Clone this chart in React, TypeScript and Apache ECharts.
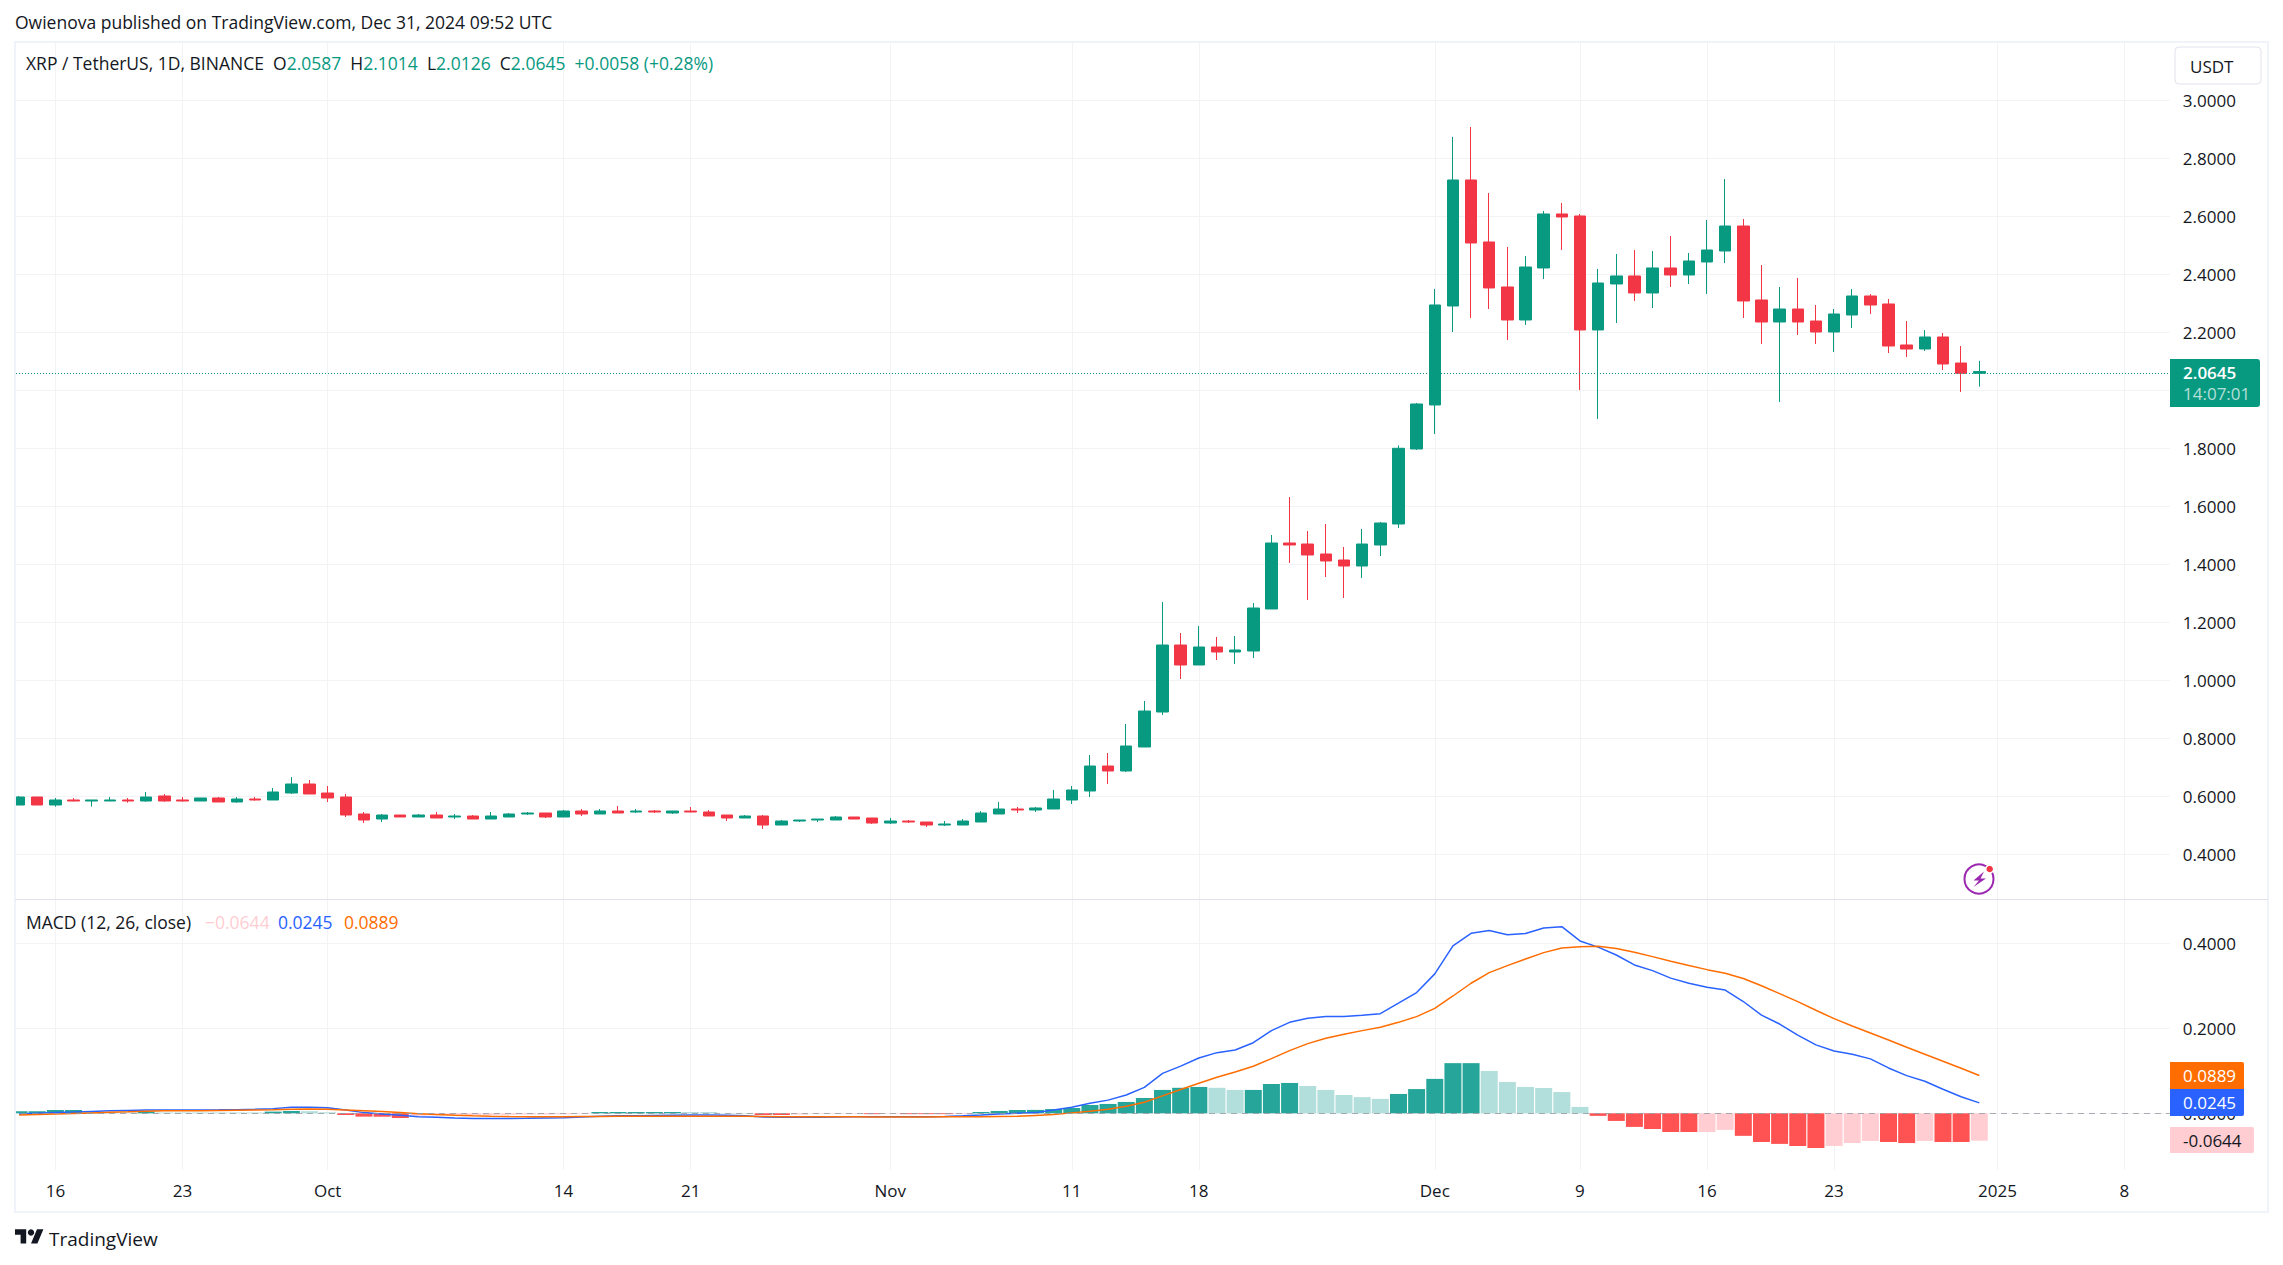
import React, { useEffect, useRef } from "react";
import * as echarts from "echarts";

const UP = "#089981";
const DOWN = "#F23645";
const TEXT = "#131722";
const GRID = "#F2F3F5";
const FONT = "'Open Sans', 'Noto Sans', sans-serif";

const startDay = Date.UTC(2024, 8, 14);
const bandCount = 119;
const categories: string[] = [];
for (let i = 0; i < bandCount; i++) {
  categories.push(new Date(startDay + i * 86400000).toISOString().slice(0, 10));
}

const timeTicks: Record<string, string> = {
  "2024-09-16": "16",
  "2024-09-23": "23",
  "2024-10-01": "Oct",
  "2024-10-14": "14",
  "2024-10-21": "21",
  "2024-11-01": "Nov",
  "2024-11-11": "11",
  "2024-11-18": "18",
  "2024-12-01": "Dec",
  "2024-12-09": "9",
  "2024-12-16": "16",
  "2024-12-23": "23",
  "2025-01-01": "2025",
  "2025-01-08": "8",
};

const priceGridLines = [0.4, 0.6, 0.8, 1.0, 1.2, 1.4, 1.6, 1.8, 2.0, 2.2, 2.4, 2.6, 2.8, 3.0];
// 2.0000 sits under the last-price tag in the reference
const priceLabels = [0.4, 0.6, 0.8, 1.0, 1.2, 1.4, 1.6, 1.8, 2.2, 2.4, 2.6, 2.8, 3.0];
const macdTicks = [0, 0.2, 0.4];

const opens = [
  0.57, 0.5976, 0.57, 0.5873, 0.5838, 0.5838, 0.5873, 0.5838, 0.6011, 0.5873,
  0.5838, 0.5942, 0.5804, 0.5907, 0.5873, 0.6114, 0.6424, 0.6114, 0.5976, 0.539,
  0.5217, 0.5355, 0.5286, 0.5355, 0.5286, 0.5321, 0.5217, 0.5286, 0.539, 0.5424,
  0.5286, 0.5493, 0.539, 0.5493, 0.5459, 0.5493, 0.5424, 0.5493, 0.5459, 0.5355,
  0.5252, 0.5321, 0.501, 0.5148, 0.5183, 0.5183, 0.5286, 0.5252, 0.5079, 0.5148,
  0.5114, 0.501, 0.501, 0.5114, 0.539, 0.5562, 0.5528, 0.5562, 0.5873, 0.6183,
  0.7045, 0.6873, 0.77, 0.8907, 1.1217, 1.0528, 1.1148, 1.0976, 1.101, 1.2459,
  1.4735, 1.47, 1.4355, 1.4148, 1.3941, 1.4666, 1.539, 1.7976, 1.9494, 2.2907,
  2.7252, 2.5114, 2.3563, 2.2425, 2.4218, 2.608, 2.6011, 2.208, 2.3666, 2.3942,
  2.3356, 2.4218, 2.3976, 2.4424, 2.4803, 2.5665, 2.3114, 2.2355, 2.2803, 2.2389,
  2.201, 2.2596, 2.3252, 2.2976, 2.1562, 2.1424, 2.1838, 2.0941, 2.0587,
];
const closes = [
  0.5976, 0.57, 0.5873, 0.5838, 0.5873, 0.5873, 0.5838, 0.5976, 0.5838, 0.5838,
  0.5942, 0.5804, 0.5907, 0.5873, 0.6149, 0.6424, 0.608, 0.5942, 0.5355, 0.5183,
  0.5355, 0.5286, 0.5355, 0.5252, 0.5321, 0.5217, 0.5321, 0.539, 0.5424, 0.5286,
  0.5493, 0.539, 0.5493, 0.5424, 0.5493, 0.5459, 0.5493, 0.5459, 0.5321, 0.5252,
  0.5321, 0.501, 0.5148, 0.5183, 0.5217, 0.5286, 0.5217, 0.5079, 0.5148, 0.5114,
  0.501, 0.5045, 0.5148, 0.5424, 0.5562, 0.5528, 0.5597, 0.5907, 0.6218, 0.7045,
  0.6873, 0.7735, 0.8941, 1.1217, 1.0528, 1.1148, 1.0976, 1.1045, 1.2493, 1.4735,
  1.4666, 1.4321, 1.4114, 1.3941, 1.47, 1.5424, 1.8, 1.9528, 2.2942, 2.7252,
  2.508, 2.3528, 2.2425, 2.4252, 2.608, 2.5976, 2.208, 2.37, 2.3942, 2.3356,
  2.4218, 2.3976, 2.4459, 2.4838, 2.5665, 2.3079, 2.2355, 2.2803, 2.2355, 2.201,
  2.2631, 2.3252, 2.2941, 2.1527, 2.1424, 2.1838, 2.0907, 2.0587, 2.0645,
];
const lows = [
  0.57, 0.57, 0.5643, 0.5827, 0.5643, 0.5838, 0.5781, 0.5815, 0.5815, 0.5815,
  0.5838, 0.5804, 0.5781, 0.585, 0.5873, 0.608, 0.608, 0.5804, 0.5286, 0.5079,
  0.5114, 0.5286, 0.5286, 0.5252, 0.5217, 0.5217, 0.5217, 0.5286, 0.5355, 0.5252,
  0.5286, 0.5321, 0.539, 0.5424, 0.5424, 0.5424, 0.539, 0.5447, 0.5321, 0.5148,
  0.5252, 0.4873, 0.501, 0.5114, 0.5114, 0.5183, 0.5217, 0.5045, 0.5045, 0.5079,
  0.4942, 0.4976, 0.501, 0.5114, 0.539, 0.5424, 0.5459, 0.5562, 0.5735, 0.5976,
  0.6424, 0.6838, 0.77, 0.8804, 1.0045, 1.0528, 1.07, 1.0562, 1.0769, 1.2459,
  1.4045, 1.2769, 1.3562, 1.2838, 1.3528, 1.4286, 1.5252, 1.7942, 1.8494, 2.2011,
  2.2494, 2.2804, 2.1735, 2.2252, 2.3838, 2.4838, 2.0011, 1.9011, 2.2321, 2.308,
  2.2838, 2.3563, 2.3666, 2.332, 2.4389, 2.2493, 2.1596, 1.9596, 2.1907, 2.1596,
  2.132, 2.2148, 2.2631, 2.1286, 2.1148, 2.1355, 2.07, 1.9941, 2.0126,
];
const highs = [
  0.6011, 0.5976, 0.5942, 0.5942, 0.5873, 0.5976, 0.5942, 0.6149, 0.608, 0.5976,
  0.5942, 0.5976, 0.5976, 0.5976, 0.6286, 0.6666, 0.6562, 0.6355, 0.608, 0.5459,
  0.539, 0.5355, 0.539, 0.5459, 0.539, 0.5355, 0.5459, 0.5424, 0.5459, 0.5424,
  0.5528, 0.5562, 0.5562, 0.5666, 0.5562, 0.5528, 0.5493, 0.5631, 0.5528, 0.5355,
  0.5355, 0.5355, 0.5183, 0.5183, 0.5217, 0.5321, 0.5286, 0.5252, 0.5252, 0.5183,
  0.5114, 0.5148, 0.5217, 0.5493, 0.5804, 0.5631, 0.5631, 0.6218, 0.6355, 0.7424,
  0.7493, 0.8493, 0.9286, 1.27, 1.1631, 1.1873, 1.1493, 1.1528, 1.2666, 1.501,
  1.6321, 1.5148, 1.539, 1.4597, 1.5217, 1.5459, 1.81, 1.9563, 2.3494, 2.8735,
  2.908, 2.6804, 2.4942, 2.4632, 2.6183, 2.6459, 2.608, 2.4183, 2.47, 2.4838,
  2.4804, 2.5321, 2.4735, 2.5872, 2.7286, 2.5907, 2.432, 2.3562, 2.3872, 2.2941,
  2.2803, 2.3493, 2.332, 2.3148, 2.2389, 2.2079, 2.1976, 2.1527, 2.1014,
];

const macdLine = [
  -0.0016, 0, 0.0016, 0.003, 0.0045, 0.006, 0.0068, 0.0075, 0.008, 0.008,
  0.008, 0.0082, 0.0086, 0.0095, 0.011, 0.014, 0.014, 0.0133, 0.008, 0.0016,
  -0.0016, -0.0047, -0.008, -0.0094, -0.011, -0.012, -0.0125, -0.0122, -0.0118, -0.011,
  -0.0102, -0.0085, -0.007, -0.006, -0.0055, -0.005, -0.0045, -0.004, -0.004, -0.0045,
  -0.006, -0.0085, -0.0095, -0.0095, -0.009, -0.0085, -0.008, -0.008, -0.008, -0.008,
  -0.008, -0.0075, -0.006, -0.004, -0.0016, 0, 0.0016, 0.008, 0.014, 0.0235,
  0.031, 0.043, 0.061, 0.094, 0.111, 0.13, 0.1427, 0.149, 0.166, 0.1945,
  0.214, 0.2235, 0.2275, 0.2275, 0.2306, 0.2345, 0.259, 0.284, 0.328, 0.394,
  0.4235, 0.43, 0.42, 0.423, 0.436, 0.439, 0.4055, 0.391, 0.3725, 0.349,
  0.3357, 0.318, 0.306, 0.2965, 0.29, 0.263, 0.231, 0.21, 0.184, 0.161,
  0.1467, 0.139, 0.128, 0.1067, 0.0886, 0.0753, 0.0565, 0.039, 0.0245,
];
const signalLine = [
  -0.004, -0.003, -0.0016, -0.0003, 0.001, 0.0024, 0.0036, 0.005, 0.006, 0.006,
  0.0062, 0.0068, 0.0074, 0.008, 0.0086, 0.0095, 0.01, 0.0095, 0.008, 0.0062,
  0.004, 0.0016, -0.0008, -0.003, -0.0047, -0.006, -0.007, -0.0076, -0.008, -0.008,
  -0.008, -0.0078, -0.0075, -0.0072, -0.007, -0.007, -0.007, -0.007, -0.007, -0.007,
  -0.007, -0.0075, -0.008, -0.008, -0.008, -0.0082, -0.0084, -0.0085, -0.0086, -0.0086,
  -0.0086, -0.0084, -0.0082, -0.008, -0.0075, -0.007, -0.005, -0.003, 0.001, 0.0047,
  0.0094, 0.0165, 0.026, 0.041, 0.056, 0.0706, 0.0847, 0.097, 0.1106, 0.1286,
  0.1475, 0.164, 0.1765, 0.186, 0.1945, 0.2024, 0.214, 0.2275, 0.247, 0.276,
  0.306, 0.331, 0.3475, 0.363, 0.378, 0.389, 0.392, 0.393, 0.3875, 0.379,
  0.3686, 0.3576, 0.3475, 0.338, 0.3294, 0.317, 0.3, 0.2816, 0.2627, 0.2424,
  0.2227, 0.2055, 0.189, 0.1725, 0.1553, 0.139, 0.1224, 0.1059, 0.0889,
];
const histogram = [
  0.0047, 0.0047, 0.0078, 0.0078, 0.0047, 0.003, 0.0016, 0.004, 0.002, 0.002,
  0.002, 0.002, 0.002, 0.002, 0.004, 0.0055, 0.005, 0.0024, -0.004, -0.0078,
  -0.008, -0.011, -0.0055, -0.005, -0.0045, -0.004, -0.004, -0.0035, -0.003, -0.003,
  -0.0025, -0.001, 0.003, 0.003, 0.003, 0.003, 0.003, 0.003, 0.003, 0.0008,
  0.0008, -0.004, -0.004, -0.003, -0.001, -0.001, -0.001, -0.002, -0.001, -0.002,
  -0.002, -0.002, -0.0016, 0.003, 0.0055, 0.008, 0.008, 0.01, 0.0125, 0.0196,
  0.022, 0.0267, 0.036, 0.055, 0.06, 0.062, 0.06, 0.055, 0.055, 0.069,
  0.0714, 0.0643, 0.055, 0.043, 0.038, 0.034, 0.0455, 0.057, 0.081, 0.118,
  0.118, 0.0996, 0.0737, 0.062, 0.0596, 0.05, 0.015, -0.006, -0.018, -0.032,
  -0.037, -0.044, -0.044, -0.044, -0.039, -0.053, -0.0675, -0.072, -0.077, -0.0816,
  -0.077, -0.07, -0.065, -0.0675, -0.07, -0.065, -0.0675, -0.0675, -0.0644,
];
// d = strong shade, l = pale shade of each histogram bar
const histogramTone =
  "ddddllldlllllldd" + "lldddd" + "llllllllll" + "ddddd" + "llll" + "dd" + "llll" + "dl" + "dddl" +
  "ddddddddddddd" + "ll" + "ddd" + "lllll" + "ddddd" + "llllll" + "dddddd" + "ll" + "ddddd" + "lll" + "dd" + "l" + "dd" + "l";

const PALE = { up: "#B2DFDB", down: "#FFCDD2" };
const STRONG = { up: "#26A69A", down: "#FF5252" };

const isTick = (_i: number, v: string) => v in timeTicks;

const candleData = opens.map((o, i) => [o, closes[i], lows[i], highs[i]]);
const histData = histogram.map((v, i) => ({
  value: v,
  itemStyle: {
    color: (histogramTone[i] === "d" ? STRONG : PALE)[v >= 0 ? "up" : "down"],
  },
}));

echarts.graphic.registerShape(
  "tvlogo",
  echarts.graphic.extendPath("M14 22H7V11H0V4h14v18zM28 22h-8l7.5-18h8L28 22z", {})
);

const text = (x: number, y: number, t: string, fill = TEXT, fontSize = 17.5, extra: any = {}) => ({
  type: "text",
  x,
  y,
  z: 120,
  style: { text: t, fill, fontFamily: FONT, fontSize, verticalAlign: "middle", ...extra },
});

function buildGraphic() {
  return [
    { type: "rect", z: 100, shape: { x: 0, y: 0, width: 15, height: 1265 }, style: { fill: "#fff" } },
    { type: "rect", z: 110, shape: { x: 15, y: 42, width: 2253, height: 1170 }, style: { fill: "none", stroke: "#F0F3FA", lineWidth: 2 } },
    { type: "line", z: 110, shape: { x1: 15, y1: 899.5, x2: 2268, y2: 899.5 }, style: { stroke: "#E0E3EB", lineWidth: 1 } },
    text(15, 22, "Owienova published on TradingView.com, Dec 31, 2024 09:52 UTC"),
    {
      type: "text",
      x: 26,
      y: 63,
      z: 120,
      style: {
        text: "XRP / TetherUS, 1D, BINANCE  O{g|2.0587}  H{g|2.1014}  L{g|2.0126}  C{g|2.0645}  {g|+0.0058 (+0.28%)}",
        fill: TEXT,
        fontFamily: FONT,
        fontSize: 17.5,
        verticalAlign: "middle",
        rich: { g: { fill: UP, fontFamily: FONT, fontSize: 17.5 } },
      },
    },
    text(26, 922, "MACD (12, 26, close)"),
    text(205, 922, "\u22120.0644", "#FFCDD2"),
    text(278, 922, "0.0245", "#2962FF"),
    text(344, 922, "0.0889", "#FF6D00"),
    // USDT button
    { type: "rect", z: 105, shape: { x: 2175, y: 47, width: 86, height: 37, r: 4 }, style: { fill: "#fff", stroke: "#E0E3EB", lineWidth: 1 } },
    text(2190, 66, "USDT", TEXT, 17),
    // last price tag
    { type: "rect", z: 105, shape: { x: 2170, y: 359, width: 90, height: 48, r: [0, 3, 3, 0] }, style: { fill: UP } },
    text(2183, 372, "2.0645", "#fff", 17, { fontWeight: 600 }),
    text(2183, 393, "14:07:01", "rgba(255,255,255,0.7)", 17),
    // MACD tags
    { type: "rect", z: 105, shape: { x: 2170, y: 1062, width: 74, height: 27, r: [0, 2, 0, 0] }, style: { fill: "#FF6D00" } },
    text(2183, 1075.5, "0.0889", "#fff", 17),
    { type: "rect", z: 105, shape: { x: 2170, y: 1089, width: 74, height: 27, r: [0, 0, 2, 0] }, style: { fill: "#2962FF" } },
    text(2183, 1102.5, "0.0245", "#fff", 17),
    { type: "rect", z: 105, shape: { x: 2170, y: 1127, width: 84, height: 26, r: [0, 2, 2, 0] }, style: { fill: "#FFCDD2" } },
    text(2183, 1140, "-0.0644", TEXT, 17),
    // bolt badge
    { type: "circle", z: 105, shape: { cx: 1979, cy: 879, r: 14.5 }, style: { fill: "none", stroke: "#9C27B0", lineWidth: 2 } },
    {
      type: "polygon",
      z: 106,
      shape: { points: [[1984, 871.5], [1973.5, 880.5], [1979, 880.5], [1973.5, 887], [1986, 878.5], [1980.5, 878.5]] },
      style: { fill: "#9C27B0" },
    },
    { type: "circle", z: 107, shape: { cx: 1989.7, cy: 869, r: 4 }, style: { fill: DOWN, stroke: "#fff", lineWidth: 1.5 } },
    // TradingView logo
    { type: "tvlogo", z: 120, x: 15, y: 1226, scaleX: 0.8, scaleY: 0.8, style: { fill: TEXT } },
    { type: "circle", z: 120, shape: { cx: 31, cy: 1232.4, r: 3.2 }, style: { fill: TEXT } },
    text(49, 1239, "TradingView", TEXT, 19),
  ];
}

function buildOption() {
  const xBase = (gridIndex: number, showLabel: boolean) => ({
    type: "category",
    gridIndex,
    data: categories,
    boundaryGap: true,
    axisLine: { show: false },
    axisTick: { show: false, alignWithLabel: true, interval: isTick },
    splitLine: { show: true, alignWithLabel: true, interval: isTick, lineStyle: { color: GRID, width: 1 } },
    axisLabel: {
      show: showLabel,
      interval: isTick,
      formatter: (v: string) => timeTicks[v] ?? "",
      color: TEXT,
      fontFamily: FONT,
      fontSize: 17,
      margin: 12,
      hideOverlap: false,
    },
  });
  const yBase = (gridIndex: number, min: number, max: number, lines: number[], labels: number[]) => ({
    type: "value",
    gridIndex,
    position: "right",
    min,
    max,
    axisLine: { show: false },
    axisTick: { show: false, customValues: lines },
    splitLine: { show: true, lineStyle: { color: GRID, width: 1 } },
    axisLabel: {
      customValues: labels,
      formatter: (v: number) => v.toFixed(4),
      color: TEXT,
      fontFamily: FONT,
      fontSize: 17,
      margin: 13,
      align: "left",
    },
  });
  return {
    animation: false,
    backgroundColor: "#ffffff",
    grid: [
      { left: 10, top: 42, width: 2159.85, height: 857 },
      { left: 10, top: 899, width: 2159.85, height: 271 },
    ],
    xAxis: [xBase(0, false), xBase(1, true)],
    yAxis: [
      yBase(0, 0.2459, 3.201, priceGridLines, priceLabels),
      yBase(1, -0.1334, 0.5042, macdTicks, macdTicks),
    ],
    series: [
      {
        type: "candlestick",
        xAxisIndex: 0,
        yAxisIndex: 0,
        data: candleData,
        barWidth: 12,
        itemStyle: { color: UP, color0: DOWN, borderColor: UP, borderColor0: DOWN, borderWidth: 1 },
        markLine: {
          silent: true,
          symbol: "none",
          label: { show: false },
          lineStyle: { color: UP, type: [1, 2], width: 1 },
          data: [{ yAxis: closes[closes.length - 1] }],
        },
      },
      {
        type: "bar",
        xAxisIndex: 1,
        yAxisIndex: 1,
        data: histData,
        barWidth: 17,
        markLine: {
          silent: true,
          symbol: "none",
          label: { show: false },
          lineStyle: { color: "#9598A1", type: [6, 5], width: 1, opacity: 0.8 },
          data: [{ yAxis: 0 }],
        },
      },
      {
        type: "line",
        xAxisIndex: 1,
        yAxisIndex: 1,
        data: macdLine,
        showSymbol: false,
        lineStyle: { color: "#2962FF", width: 1.5 },
      },
      {
        type: "line",
        xAxisIndex: 1,
        yAxisIndex: 1,
        data: signalLine,
        showSymbol: false,
        lineStyle: { color: "#FF6D00", width: 1.5 },
      },
    ],
    graphic: { elements: buildGraphic() },
  };
}

export default function App() {
  const ref = useRef<HTMLDivElement>(null);
  useEffect(() => {
    const chart = echarts.init(ref.current!, undefined, { renderer: "svg" });
    chart.setOption(buildOption() as any);
    return () => chart.dispose();
  }, []);
  return (
    <div
      ref={ref}
      style={{ position: "fixed", left: 0, top: 0, width: 2283, height: 1265, background: "#fff" }}
    />
  );
}
